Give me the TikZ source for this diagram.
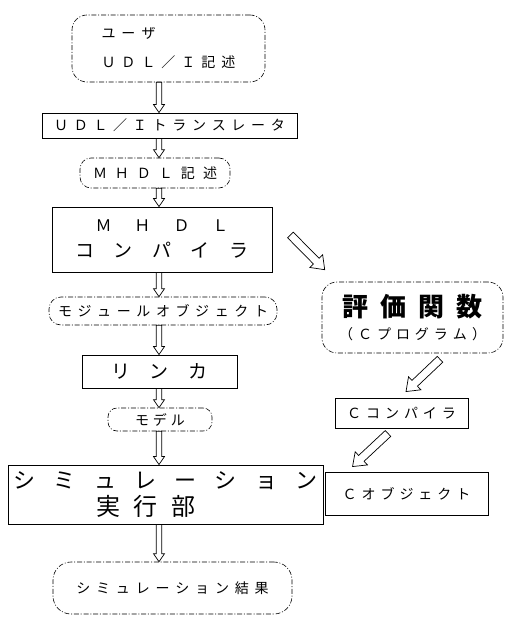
\documentclass[tikz,border=0pt]{standalone}
\usepackage{fontspec}
\newfontfamily\jp{Noto Sans CJK JP}
\usetikzlibrary{calc}
\def\lsgap{0pt}
\newcommand\ls[2]{\def\lsgap{#1}\lsA#2\relax}
\def\lsA#1{#1\futurelet\lsnext\lsB}
\def\lsB{\ifx\lsnext\relax\expandafter\lsC\else\hspace{\lsgap}\expandafter\lsA\fi}
\def\lsC\relax{}
\tikzset{
  box/.style={draw, line width=0.9pt, inner sep=0pt},
  ddbox/.style={draw, line width=0.6pt, dash pattern=on 5pt off 1.8pt on 1pt off 1.8pt, inner sep=0pt},
  harrow/.style args={#1/#2/#3}{draw, fill=white, line width=0.7pt, line join=miter,
    to path={let \p1=(\tikztostart), \p2=(\tikztotarget),
      \n1={atan2(\y2-\y1,\x2-\x1)}, \n2={veclen(\x2-\x1,\y2-\y1)} in
      ($(\p1)+({\n1+90}:#1)$)
      -- ($(\p1)+(\n1:{\n2-#3})+({\n1+90}:#1)$)
      -- ($(\p1)+(\n1:{\n2-#3})+({\n1+90}:#2)$)
      -- (\p2)
      -- ($(\p1)+(\n1:{\n2-#3})+({\n1-90}:#2)$)
      -- ($(\p1)+(\n1:{\n2-#3})+({\n1-90}:#1)$)
      -- ($(\p1)+({\n1-90}:#1)$) -- cycle}},
}
\begin{document}
\begin{tikzpicture}[x=1pt,y=-1pt]
\useasboundingbox (0,0) rectangle (506,617);

% main column
\node[ddbox, rounded corners=15pt, minimum width=193pt, minimum height=67pt, align=left,
      font=\jp\fontsize{14pt}{29pt}\selectfont] (top) at (168.5,48.5)
      {\ls{6pt}{ユーザ}\\\ls{6pt}{ＵＤＬ／Ｉ記述}};
\node[box, minimum width=255pt, minimum height=25pt,
      font=\jp\fontsize{14pt}{16pt}\selectfont] (trans) at (169.5,125.5)
      {\ls{5.7pt}{ＵＤＬ／Ｉトランスレータ}};
\node[ddbox, rounded corners=11pt, minimum width=150pt, minimum height=30pt,
      font=\jp\fontsize{14pt}{16pt}\selectfont] (mhdlk) at (155,173)
      {\ls{8pt}{ＭＨＤＬ記述}};
\node[box, minimum width=220pt, minimum height=65pt, align=center,
      font=\jp\fontsize{16pt}{26pt}\selectfont] (comp) at (162,239.5)
      {\ls{23pt}{ＭＨＤＬ}\\{\fontsize{19pt}{26pt}\selectfont\ls{19.5pt}{コンパイラ}}};
\node[ddbox, rounded corners=12pt, minimum width=228pt, minimum height=28pt,
      font=\jp\fontsize{14pt}{16pt}\selectfont] (mod) at (163,311)
      {\ls{5.6pt}{モジュールオブジェクト}};
\node[box, minimum width=155pt, minimum height=33pt,
      font=\jp\fontsize{19pt}{22pt}\selectfont] (link) at (159.5,371.5)
      {\ls{20pt}{リンカ}};
\node[ddbox, rounded corners=9pt, minimum width=104pt, minimum height=23pt,
      font=\jp\fontsize{14pt}{16pt}\selectfont] (model) at (160,419.5)
      {\ls{4pt}{モデル}};
\node[box, minimum width=315pt, minimum height=59pt, align=center,
      font=\jp\fontsize{22pt}{27pt}\selectfont] (sim) at (165.5,494.5)
      {\ls{18.3pt}{シミュレーション}\\{\fontsize{24pt}{27pt}\selectfont\ls{14pt}{実行部}\hspace*{39pt}}};
\node[ddbox, rounded corners=18pt, minimum width=239pt, minimum height=52pt,
      font=\jp\fontsize{14pt}{16pt}\selectfont] (res) at (172.5,588)
      {\ls{5.8pt}{シミュレーション結果}};

% right column
\node[ddbox, rounded corners=15pt, minimum width=181pt, minimum height=71pt, align=center,
      font=\jp\fontsize{14pt}{23pt}\selectfont] (eval) at (412.5,317.5)
      {{\bfseries\fontsize{26pt}{23pt}\selectfont\ls{12pt}{評価関数}}\\\ls{5pt}{（Ｃプログラム）}};
\node[box, minimum width=133pt, minimum height=30pt,
      font=\jp\fontsize{14pt}{16pt}\selectfont] (ccomp) at (401.5,413)
      {\ls{5pt}{Ｃコンパイラ}};
\node[box, minimum width=163pt, minimum height=43pt,
      font=\jp\fontsize{14pt}{16pt}\selectfont] (cobj) at (406.5,493.5)
      {\ls{5pt}{Ｃオブジェクト}};

% vertical hollow arrows
\coordinate (ax) at (159,0);
\draw[harrow=2.75pt/5.5pt/8pt] (ax |- top.south) to (ax |- trans.north);
\draw[harrow=2.75pt/5.5pt/8pt] (ax |- trans.south) to (ax |- mhdlk.north);
\draw[harrow=2.75pt/5.5pt/8pt] (ax |- mhdlk.south) to (ax |- comp.north);
\draw[harrow=2.75pt/5.5pt/8pt] (ax |- comp.south) to (ax |- mod.north);
\draw[harrow=2.75pt/5.5pt/8pt] (ax |- mod.south) to (ax |- link.north);
\draw[harrow=2.75pt/5.5pt/8pt] (ax |- link.south) to (ax |- model.north);
\draw[harrow=2.75pt/5.5pt/8pt] (ax |- model.south) to (ax |- sim.north);
\draw[harrow=2.75pt/5.5pt/8pt] (ax |- sim.south) to (ax |- res.north);

% diagonal hollow arrows
\draw[harrow=4pt/9pt/12pt] ($(comp.east)+(18,-4.5)$) to ($(eval.north west)+(3,-12)$);
\draw[harrow=4pt/9pt/12pt] ($(eval.south)+(27.5,6)$) to ($(ccomp.north)+(4.5,-6)$);
\draw[harrow=4pt/9pt/12pt] ($(ccomp.south)+(-13.5,5)$) to ($(cobj.north west)+(28,-5)$);
\end{tikzpicture}
\end{document}
